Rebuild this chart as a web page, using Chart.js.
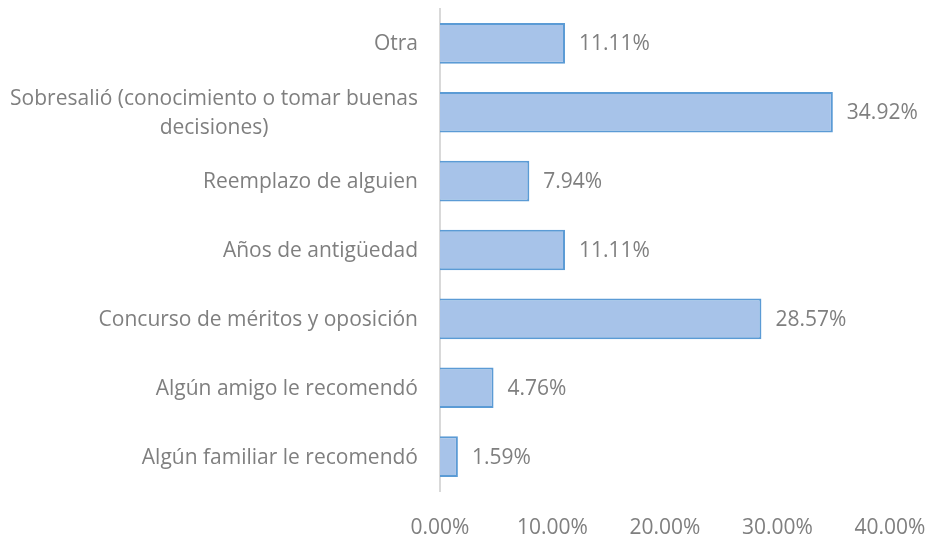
<!DOCTYPE html>
<html>
<head>
<meta charset="utf-8">
<script src="https://cdn.jsdelivr.net/npm/chart.js@4"></script>
<style>
  html, body { margin: 0; padding: 0; background: #fff; overflow: hidden; }
  #wrap { width: 930px; height: 537px; }
</style>
</head>
<body>
<div id="wrap"><canvas id="chart"></canvas></div>
<script>
// Categories, top to bottom as in the picture
const categories = [
    'Otra',
    ['Sobresalió (conocimiento o tomar buenas', 'decisiones)'],
    'Reemplazo de alguien',
    'Años de antigüedad',
    'Concurso de méritos y oposición',
    'Algún amigo le recomendó',
    'Algún familiar le recomendó'
];
// Percent values per category
const percentages = [11.11, 34.92, 7.94, 11.11, 28.57, 4.76, 1.59];
// Tick values of the horizontal axis
const xTicks = [0, 10, 20, 30, 40];

const textColor = '#7f7f7f';
const fontFamily = '"Open Sans", sans-serif';
const fontSize = 21;

// Category labels drawn centred per block, right edge near the axis
const categoryLabels = {
    id: 'categoryLabels',
    afterDraw(chart) {
        const ctx = chart.ctx;
        const yScale = chart.scales.y;
        const right = chart.chartArea.left - 22;
        const lineHeight = 29;
        ctx.save();
        ctx.font = fontSize + 'px ' + fontFamily;
        ctx.fillStyle = textColor;
        ctx.textBaseline = 'middle';
        ctx.textAlign = 'center';
        categories.forEach((label, i) => {
            const lines = Array.isArray(label) ? label : [label];
            const maxW = Math.max(...lines.map(l => ctx.measureText(l).width));
            const cx = right - maxW / 2;
            const cy = yScale.getPixelForValue(i) + 1;
            const startY = cy - (lines.length - 1) * lineHeight / 2;
            lines.forEach((line, j) => ctx.fillText(line, cx, startY + j * lineHeight));
        });
        ctx.restore();
    }
};

// Value labels just past the end of each bar
const valueLabels = {
    id: 'valueLabels',
    afterDatasetsDraw(chart) {
        const ctx = chart.ctx;
        const meta = chart.getDatasetMeta(0);
        ctx.save();
        ctx.font = fontSize + 'px ' + fontFamily;
        ctx.fillStyle = textColor;
        ctx.textBaseline = 'middle';
        ctx.textAlign = 'left';
        meta.data.forEach((bar, i) => {
            ctx.fillText(percentages[i].toFixed(2) + '%', bar.x + 14, bar.y + 1);
        });
        ctx.restore();
    }
};

const ctx = document.getElementById('chart').getContext('2d');
new Chart(ctx, {
    type: 'bar',
    data: {
        labels: categories.map(c => Array.isArray(c) ? c.join(' ') : c),
        datasets: [{
            data: percentages,
            backgroundColor: '#a7c3e9',
            borderColor: '#5b9bd5',
            borderWidth: 2,
            borderSkipped: 'left',
            barPercentage: 0.59,
            categoryPercentage: 1
        }]
    },
    options: {
        indexAxis: 'y',
        responsive: true,
        maintainAspectRatio: false,
        animation: false,
        layout: {
            padding: { left: 440, right: 40, top: 9, bottom: 0 }
        },
        scales: {
            x: {
                min: xTicks[0],
                max: xTicks[xTicks.length - 1],
                afterBuildTicks: scale => {
                    scale.ticks = xTicks.map(v => ({ value: v }));
                },
                afterFit: scale => {
                    scale.height = 46;
                    scale.paddingLeft = 0;
                    scale.paddingRight = 0;
                },
                grid: { display: false, drawTicks: false },
                border: { display: false },
                ticks: {
                    color: textColor,
                    padding: 24,
                    maxRotation: 0,
                    font: { family: fontFamily, size: fontSize },
                    callback: v => v.toFixed(2) + '%'
                }
            },
            y: {
                afterFit: scale => { scale.width = 0; },
                grid: { display: false, drawTicks: false },
                border: { display: true, color: '#d9d9d9', width: 2 },
                ticks: { display: false }
            }
        },
        plugins: {
            legend: { display: false },
            tooltip: { enabled: false }
        }
    },
    plugins: [categoryLabels, valueLabels]
});
</script>
</body>
</html>
